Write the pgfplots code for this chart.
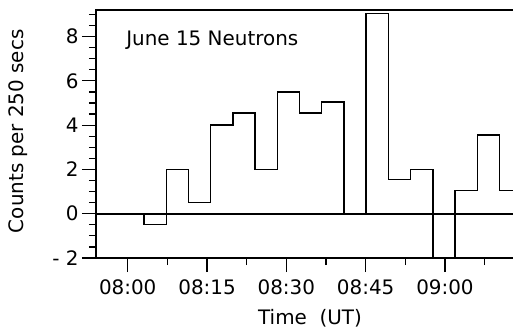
\documentclass[border=0pt]{standalone}
\usepackage{pgfplots}
\pgfplotsset{compat=1.18}
\usepackage{fontspec}
\setmainfont{DejaVu Sans}
\begin{document}
\begin{tikzpicture}
\useasboundingbox (0,0) rectangle (513bp,333bp);
\begin{axis}[
  at={(96bp,75bp)}, anchor=south west,
  scale only axis, width=423bp, height=248bp,
  xmin=-6, xmax=74, ymin=-2, ymax=9.2,
  axis line style={line width=1.3bp},
  tick pos=left, tick align=outside,
  major tick length=14bp, minor tick length=7bp,
  every tick/.style={black, line width=1.2bp},
  xtick={0,15,30,45,60},
  xticklabels={08:00,08:15,08:30,08:45,09:00},
  xticklabel style={yshift=-4bp},
  minor xtick={7.5,22.5,37.5,52.5,67.5},
  ytick={-2,0,2,4,6,8},
  yticklabels={- 2,0,2,4,6,8},
  minor ytick={-1.5,-1,-0.5,0.5,1,1.5,2.5,3,3.5,4.5,5,5.5,6.5,7,7.5,8.5,9},
  font=\fontsize{20}{24}\selectfont,
  xlabel={Time\ \ (UT)},
  ylabel={Counts per 250 secs},
  xlabel style={at={(axis description cs:0.506,-0.27)}, anchor=base, inner sep=0pt},
  ylabel style={at={(axis description cs:-0.184,0.511)}, anchor=center, inner sep=0pt},
  clip=false,
]
\addplot[black, line width=2bp] coordinates {(-6,0) (74,0)};
\addplot[const plot, black, line width=1.4bp] coordinates {
(3.1,0) (3.1,-0.5) (7.3,2) (11.5,0.5) (15.7,4) (19.9,4.55) (24.1,2)
(28.3,5.5) (32.5,4.55) (36.7,5.05) (40.9,0) (45.1,9.05) (49.3,1.55)
(53.5,2) (57.7,-2) (61.9,1.05) (66.1,3.55) (70.3,1.05) (74,1.05)};
\node[anchor=base west, inner sep=0pt] at (axis cs:-0.3,7.6) {June 15 Neutrons};
\end{axis}
\end{tikzpicture}
\end{document}
